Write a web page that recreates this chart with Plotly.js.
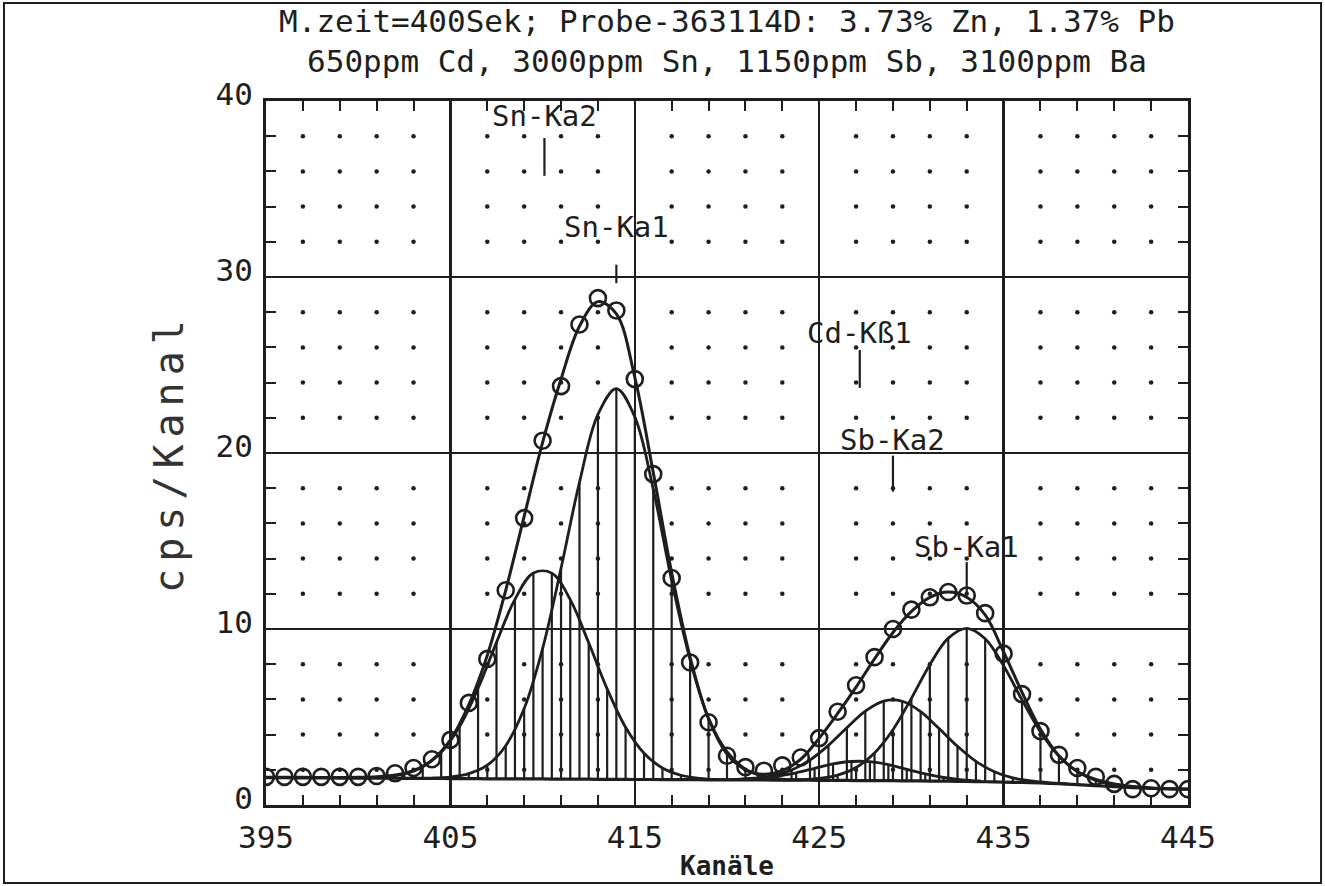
<!DOCTYPE html>
<html><head><meta charset="utf-8">
<script src="https://cdn.plot.ly/plotly-3.0.1.min.js"></script>
<style>html,body{margin:0;padding:0;background:#fff;} #chart{width:1325px;height:886px;}
.ytitle{letter-spacing:7px;}</style>
</head><body><div id="chart"></div>
<script>
// ---- data ----
const channels = [395,396,397,398,399,400,401,402,403,404,405,406,407,408,409,410,411,412,413,414,415,416,417,418,419,420,421,422,423,424,425,426,427,428,429,430,431,432,433,434,435,436,437,438,439,440,441,442,443,444,445];
const measured = [1.6,1.6,1.6,1.6,1.6,1.6,1.65,1.8,2.1,2.6,3.7,5.8,8.3,12.2,16.3,20.7,23.8,27.3,28.8,28.1,24.2,18.8,12.9,8.1,4.7,2.8,2.15,1.95,2.25,2.7,3.8,5.3,6.8,8.4,10.0,11.1,11.8,12.1,11.9,10.9,8.6,6.3,4.2,2.85,2.1,1.6,1.2,0.9,0.95,0.9,0.9];
const background = [1.55,1.55,1.54,1.54,1.53,1.53,1.52,1.52,1.51,1.51,1.50,1.50,1.49,1.49,1.48,1.48,1.47,1.47,1.46,1.46,1.45,1.45,1.44,1.44,1.43,1.43,1.42,1.42,1.41,1.41,1.40,1.40,1.39,1.39,1.38,1.37,1.36,1.35,1.34,1.32,1.30,1.28,1.25,1.21,1.16,1.10,1.04,0.99,0.95,0.92,0.90];
const fitTotal = [1.58,1.57,1.57,1.56,1.56,1.57,1.6,1.7,1.95,2.55,3.7,5.7,8.5,12.2,16.4,20.6,24.2,27.2,28.6,27.9,24.3,18.9,13.2,8.4,4.9,2.9,2.0,1.75,1.95,2.6,3.8,5.2,6.7,8.3,9.8,11.0,11.8,12.1,11.8,10.8,8.7,6.4,4.3,2.8,1.9,1.45,1.2,1.05,0.97,0.93,0.9];

// peak components (height above background)
const snKa1X = [404,405,406,407,408,409,410,411,412,413,414,415,416,417,418,419,420,421,422,423,424];
const snKa1 = [0.02,0.09,0.28,0.77,1.88,4.0,7.41,11.98,16.87,20.73,22.2,20.6,16.5,11.3,6.8,3.5,1.6,0.62,0.2,0.06,0.02];
const snKa2X = [400.5,401.5,402.5,403.5,404.5,405.5,406.5,407.5,408.5,409.5,410.5,411.5,412.5,413.5,414.5,415.5,416.5,417.5,418.5,419.5];
const snKa2 = [0.02,0.08,0.25,0.66,1.49,2.96,5.14,7.75,10.2,11.7,11.7,10.2,7.75,5.14,2.96,1.49,0.66,0.25,0.08,0.02];
const sbKa1X = [423,424,425,426,427,428,429,430,431,432,433,434,435,436,437,438,439,440,441,442,443];
const sbKa1 = [0.01,0.03,0.11,0.30,0.74,1.57,2.90,4.69,6.61,8.13,8.7,8.13,6.61,4.69,2.90,1.57,0.74,0.30,0.11,0.03,0.01];
const sbKa2X = [419.5,420.5,421.5,422.5,423.5,424.5,425.5,426.5,427.5,428.5,429.5,430.5,431.5,432.5,433.5,434.5,435.5,436.5,437.5,438.5];
const sbKa2 = [0.01,0.03,0.10,0.25,0.58,1.15,1.99,2.99,3.94,4.52,4.52,3.94,2.99,1.99,1.15,0.58,0.25,0.10,0.03,0.01];
const cdKb1X = [420.75,421.75,422.75,423.75,424.75,425.75,426.75,427.75,428.75,429.75,430.75,431.75,432.75,433.75];
const cdKb1 = [0.04,0.10,0.23,0.42,0.68,0.93,1.08,1.07,0.91,0.65,0.40,0.21,0.09,0.04];

// peak labels
const peakNames = ['Sn-Ka2','Sn-Ka1','Cd-Kß1','Sb-Ka2','Sb-Ka1'];
const peakChannels = [410.1,414.0,427.2,429.0,433.0];
const peakLabelLevels = [39.15,32.85,26.8,20.75,14.65];
const peakMarkTop = [37.9,30.7,25.85,19.85,13.8];
const peakMarkBottom = [35.75,29.65,23.7,17.8,12.1];

const titleLines = ['M.zeit=400Sek; Probe-363114D: 3.73% Zn, 1.37% Pb','650ppm Cd, 3000ppm Sn, 1150ppm Sb, 3100ppm Ba'];
const xTitle = 'Kanäle';
const yTitle = 'cps/Kanal';

// ---- drawing ----
const INK = '#1e1e1e';
const FONT = 'DejaVu Sans Mono';

function bgAt(x){
  const i = Math.floor(x) - channels[0];
  const f = x - Math.floor(x);
  if (i >= background.length - 1) return background[background.length-1];
  return background[i]*(1-f) + background[i+1]*f;
}

const traces = [];

// dot grid (decoration at minor tick positions)
const dx = [], dy = [];
for (let x = 397; x < 445; x += 2){
  if ((x - 395) % 10 === 0) continue;
  for (let y = 2; y < 40; y += 2){
    if (y % 10 === 0) continue;
    dx.push(x); dy.push(y);
  }
}
traces.push({type:'scatter', mode:'markers', x:dx, y:dy, hoverinfo:'skip',
  marker:{size:4.5, color:INK}});

function addComponent(xs, vals){
  const hx = [], hy = [];
  xs.forEach((x,i)=>{
    if (vals[i] < 0.05) return;
    const b = bgAt(x);
    hx.push(x, x, null); hy.push(b, b + vals[i], null);
  });
  traces.push({type:'scatter', mode:'lines', x:hx, y:hy, hoverinfo:'skip',
    line:{color:INK, width:2.2}});
  traces.push({type:'scatter', mode:'lines', x:xs, y:xs.map((x,i)=>bgAt(x)+vals[i]),
    line:{color:INK, width:2.8, shape:'spline', smoothing:1}});
}
addComponent(snKa2X, snKa2);
addComponent(snKa1X, snKa1);
addComponent(cdKb1X, cdKb1);
addComponent(sbKa2X, sbKa2);
addComponent(sbKa1X, sbKa1);

traces.push({type:'scatter', mode:'lines', x:channels, y:background,
  line:{color:INK, width:3.2, shape:'spline'}});
traces.push({type:'scatter', mode:'lines', x:channels, y:fitTotal,
  line:{color:INK, width:3, shape:'spline', smoothing:1}});
traces.push({type:'scatter', mode:'markers', x:channels, y:measured,
  marker:{symbol:'circle-open', size:16, color:INK, line:{width:2.6, color:INK}}});

const shapes = peakChannels.map((c,i)=>({type:'line', xref:'x', yref:'y',
  x0:c, x1:c, y0:peakMarkBottom[i], y1:peakMarkTop[i], line:{color:INK, width:2.2}}));
// outer frame
shapes.push({type:'rect', xref:'paper', yref:'paper', x0:-0.2842, x1:1.1443, y0:-0.1108, y1:1.1392,
  line:{color:INK, width:2}, layer:'below'});

const annotations = peakNames.map((t,i)=>({x:peakChannels[i], y:peakLabelLevels[i], xref:'x', yref:'y',
  text:t, showarrow:false, xanchor:'center', yanchor:'middle',
  font:{family:FONT, size:29, color:INK}}));

const axisCommon = {
  showline:true, linewidth:3, linecolor:INK, mirror:'allticks',
  ticks:'inside', ticklen:10, tickwidth:2, tickcolor:INK,
  showgrid:true, gridcolor:INK, gridwidth:2.2, zeroline:false,
  tickfont:{family:FONT, size:31, color:INK},
  fixedrange:true
};

const layout = {
  width:1325, height:886,
  margin:{l:266, r:137, t:101, b:81},
  paper_bgcolor:'#fff', plot_bgcolor:'#fff',
  showlegend:false,
  title:{text:titleLines.join('<br>'), font:{family:FONT, size:31, color:INK},
    x:0.5, xref:'paper', xanchor:'center', y:0.964, yref:'container', yanchor:'middle'},
  xaxis:Object.assign({}, axisCommon, {range:[395,445], tick0:395, dtick:10,
    minor:{tick0:395, dtick:2, ticks:'inside', ticklen:10, tickwidth:2, tickcolor:INK, showgrid:false},
    ticklabelstandoff:3,
    title:{text:xTitle, font:{family:FONT, size:26, color:INK, weight:'bold'}, standoff:3}}),
  yaxis:Object.assign({}, axisCommon, {range:[0,40], tick0:0, dtick:10,
    minor:{tick0:0, dtick:2, ticks:'inside', ticklen:10, tickwidth:2, tickcolor:INK, showgrid:false},
    ticklabelstandoff:4, ticklabelshift:-7,
    title:{text:yTitle, font:{family:FONT, size:40, color:'#333'}, standoff:20}}),
  shapes:shapes,
  annotations:annotations
};

Plotly.newPlot('chart', traces, layout, {displayModeBar:false, staticPlot:true});
</script>
</body></html>
